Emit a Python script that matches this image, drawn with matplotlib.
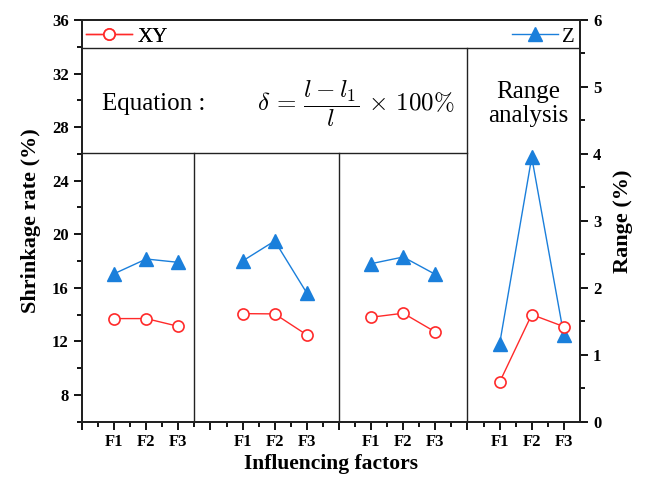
import matplotlib
matplotlib.use("Agg")
import matplotlib.pyplot as plt
from matplotlib.ticker import MultipleLocator
from matplotlib.lines import Line2D

plt.rcParams["font.family"] = ["Liberation Serif", "DejaVu Serif"]
plt.rcParams["mathtext.fontset"] = "cm"

# %% data
levels = ["F1", "F2", "F3"]
xy_factor1 = [13.70, 13.70, 13.12]
xy_factor2 = [14.07, 14.05, 12.48]
xy_factor3 = [13.80, 14.10, 12.70]
z_factor1 = [17.05, 18.15, 17.90]
z_factor2 = [18.00, 19.50, 15.60]
z_factor3 = [17.80, 18.30, 17.00]
xy_range = [0.59, 1.60, 1.42]
z_range = [1.16, 3.95, 1.29]

# x layout: one continuous axis, panels split at 7, 16, 24
panel_x = [[2, 4, 6], [10, 12, 14], [18, 20, 22], [26, 28, 30]]

red = "#ff2a2a"
blue = "#1a7fdb"

fig = plt.figure(figsize=(6.45, 4.78), dpi=100)
ax = fig.add_axes([0.1271, 0.1178, 0.772, 0.8404])
ax2 = ax.twinx()

xy_kw = dict(color=red, lw=1.0, marker="o", ms=8, mfc="white", mec=red, mew=1.2)
z_kw = dict(color=blue, lw=1.0, marker="^", ms=10, mfc=blue, mec=blue)

for px, xy, z in zip(panel_x[:3], [xy_factor1, xy_factor2, xy_factor3],
                     [z_factor1, z_factor2, z_factor3]):
    ax.plot(px, xy, **xy_kw, zorder=3)
    ax.plot(px, z, **z_kw, zorder=3)

ax2.plot(panel_x[3], z_range, **z_kw, zorder=3)
ax2.plot(panel_x[3], xy_range, **xy_kw, zorder=4)

ax.set_xlim(0, 31)
ax.set_ylim(6, 36)
ax2.set_ylim(0, 6)

# panel separators
sep = "#222222"
legend_y = 33.88
box_y = 26.1
ax.axhline(legend_y, color=sep, lw=1.0)
ax.plot([0, 24], [box_y, box_y], color=sep, lw=1.0)
ax.plot([7, 7], [6, box_y], color=sep, lw=1.0)
ax.plot([16, 16], [6, box_y], color=sep, lw=1.0)
ax.plot([24, 24], [6, legend_y], color=sep, lw=1.0)

# ticks
major_x = list(range(0, 31, 2))
all_f = [x for p in panel_x for x in p]
ax.set_xticks(major_x)
ax.set_xticklabels([levels[all_f.index(x) % 3] if x in all_f else "" for x in major_x])
ax.set_xticks(list(range(1, 30, 2)), minor=True)
ax.set_yticks(range(8, 37, 4))
ax.yaxis.set_minor_locator(MultipleLocator(2))
ax2.yaxis.set_major_locator(MultipleLocator(1))
ax2.yaxis.set_minor_locator(MultipleLocator(0.5))

for a in (ax, ax2):
    a.tick_params(which="major", direction="out", length=6, width=1.3, labelsize=12)
    a.tick_params(which="minor", direction="out", length=3.5, width=1.3)
    for s in a.spines.values():
        s.set_linewidth(1.4)
        s.set_color("#222222")
    for lab in a.get_xticklabels() + a.get_yticklabels():
        lab.set_fontweight("bold")
ax.tick_params(axis="x", pad=3)

ax.set_xlabel("Influencing factors", fontsize=15.5, fontweight="bold", labelpad=3)
ax.set_ylabel("Shrinkage rate (%)", fontsize=16, fontweight="bold", labelpad=8)
ax2.set_ylabel("Range (%)", fontsize=16, fontweight="bold", labelpad=8)

# legends
h_xy = Line2D([], [], **xy_kw)
h_z = Line2D([], [], **z_kw)
leg1 = ax.legend([h_xy], ["XY"], loc="center left", bbox_to_anchor=(0.008, 0.958),
                 frameon=False, fontsize=15, borderpad=0, borderaxespad=0,
                 handlelength=2.2, handletextpad=0.3)
ax.add_artist(leg1)
ax2.legend([h_z], ["Z"], loc="center right", bbox_to_anchor=(0.99, 0.958),
           frameon=False, fontsize=15, borderpad=0, borderaxespad=0,
           handlelength=2.2, handletextpad=0.2)

# annotations
ax.text(1.23, 29.72, "Equation :", fontsize=18, ha="left", va="center")
ax.text(17.05, 29.72, r"$\delta \,=\, \dfrac{l - l_1}{l} \,\times\, 100\%$",
        fontsize=18, ha="center", va="center")
ax.text(27.77, 29.72, "Range\nanalysis", fontsize=18, ha="center", va="center",
        linespacing=1.15)

fig.savefig("out.png", dpi=100)
